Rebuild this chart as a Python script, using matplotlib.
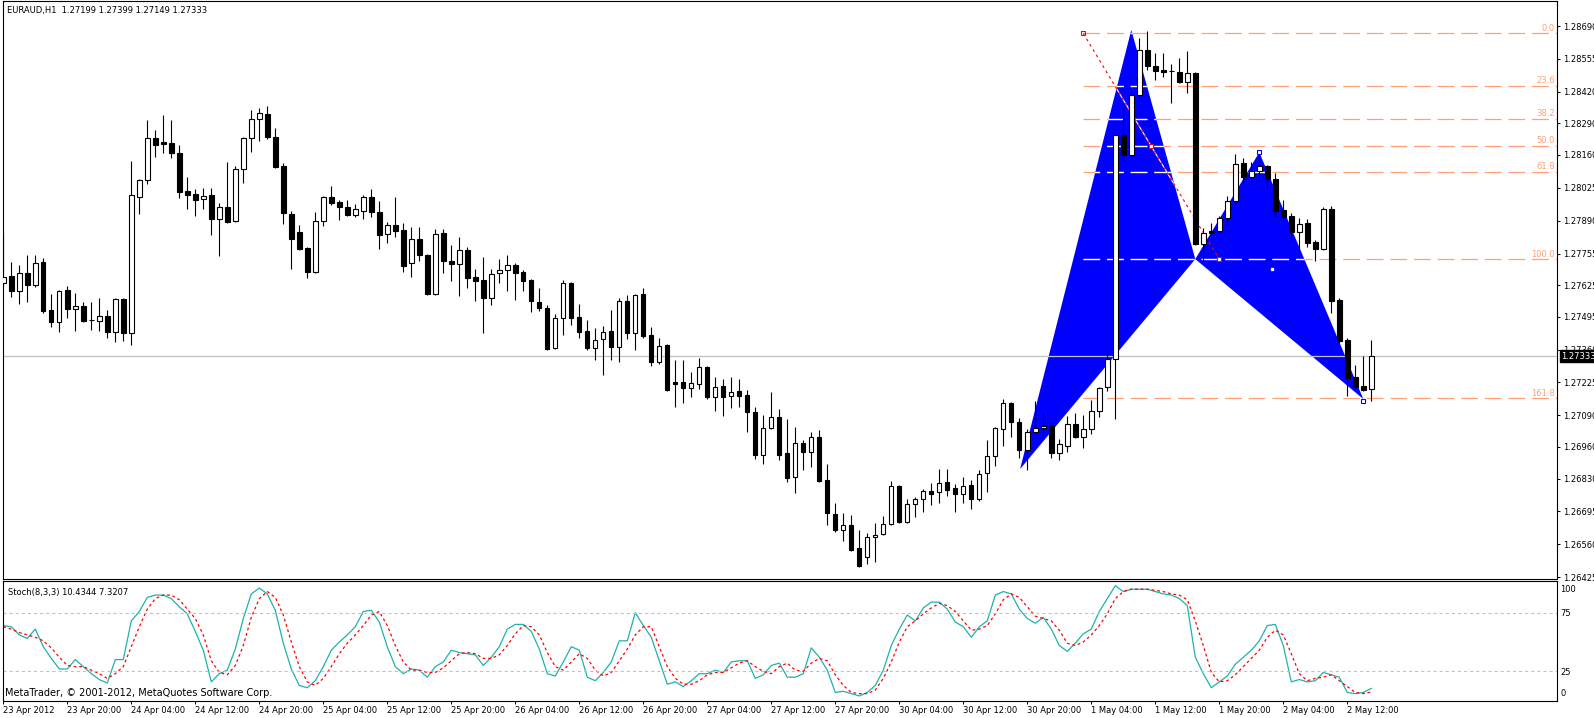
import matplotlib
matplotlib.use("Agg")
import matplotlib.pyplot as plt
import matplotlib.transforms as mtransforms
import numpy as np
from matplotlib.patches import Polygon

plt.rcParams['font.family'] = ['DejaVu Sans']
plt.rcParams['lines.scale_dashes'] = False

# EURAUD H1 bars, 23 Apr 2012 12:00 .. 2 May 2012 15:00
opens = [1.27634, 1.27662, 1.27601, 1.27675, 1.27625, 1.27720, 1.27523, 1.27474, 1.27605, 1.27527,
         1.27539, 1.27482, 1.27478, 1.27498, 1.27433, 1.27568, 1.27429, 1.27987, 1.28057, 1.28230,
         1.28214, 1.28210, 1.28169, 1.28012, 1.27999, 1.27979, 1.27995, 1.27897, 1.27946, 1.27889,
         1.28102, 1.28230, 1.28308, 1.28329, 1.28234, 1.28114, 1.27918, 1.27844, 1.27778, 1.27679,
         1.27889, 1.27987, 1.27967, 1.27946, 1.27913, 1.27930, 1.27987, 1.27926, 1.27836, 1.27872,
         1.27852, 1.27716, 1.27815, 1.27749, 1.27589, 1.27840, 1.27724, 1.27712, 1.27770, 1.27658,
         1.27646, 1.27572, 1.27675, 1.27687, 1.27707, 1.27679, 1.27646, 1.27556, 1.27531, 1.27367,
         1.27490, 1.27634, 1.27494, 1.27437, 1.27367, 1.27404, 1.27437, 1.27371, 1.27560, 1.27429,
         1.27589, 1.27420, 1.27309, 1.27379, 1.27227, 1.27227, 1.27202, 1.27219, 1.27288, 1.27165,
         1.27210, 1.27169, 1.27190, 1.27173, 1.27104, 1.26927, 1.27038, 1.27083, 1.26935, 1.26836,
         1.26977, 1.26940, 1.27001, 1.26824, 1.26685, 1.26619, 1.26640, 1.26545, 1.26508, 1.26590,
         1.26603, 1.26644, 1.26799, 1.26652, 1.26726, 1.26746, 1.26779, 1.26775, 1.26816, 1.26791,
         1.26767, 1.26803, 1.26746, 1.26853, 1.26923, 1.27034, 1.27141, 1.27063, 1.26948, 1.27022,
         1.27038, 1.27050, 1.26935, 1.26964, 1.27055, 1.27001, 1.27034, 1.27108, 1.27206, 1.27322,
         1.28243, 1.28160, 1.28407, 1.28592, 1.28526, 1.28509, 1.28505, 1.28501, 1.28460, 1.28497,
         1.27795, 1.27848, 1.27848, 1.27901, 1.27971, 1.28127, 1.28069, 1.28094, 1.28114, 1.28061,
         1.27934, 1.27909, 1.27844, 1.27881, 1.27803, 1.27774, 1.27938, 1.27564, 1.27400, 1.27247,
         1.27210, 1.27199]
highs = [1.27836, 1.27720, 1.27707, 1.27749, 1.27749, 1.27737, 1.27589, 1.27605, 1.27621, 1.27593,
         1.27556, 1.27556, 1.27572, 1.27523, 1.27572, 1.27572, 1.28135, 1.28061, 1.28304, 1.28263,
         1.28324, 1.28304, 1.28201, 1.28069, 1.28020, 1.28024, 1.28024, 1.27963, 1.28131, 1.28114,
         1.28234, 1.28345, 1.28353, 1.28361, 1.28271, 1.28127, 1.27930, 1.27872, 1.27782, 1.27926,
         1.27991, 1.28032, 1.27975, 1.27975, 1.27959, 1.27995, 1.28020, 1.27971, 1.27885, 1.27987,
         1.27881, 1.27864, 1.27864, 1.27753, 1.27856, 1.27856, 1.27790, 1.27823, 1.27782, 1.27691,
         1.27741, 1.27691, 1.27733, 1.27749, 1.27716, 1.27687, 1.27650, 1.27613, 1.27544, 1.27507,
         1.27646, 1.27638, 1.27548, 1.27482, 1.27449, 1.27457, 1.27523, 1.27572, 1.27584, 1.27589,
         1.27613, 1.27453, 1.27408, 1.27383, 1.27317, 1.27317, 1.27268, 1.27325, 1.27292, 1.27247,
         1.27239, 1.27247, 1.27239, 1.27194, 1.27124, 1.27092, 1.27186, 1.27116, 1.27075, 1.27042,
         1.26989, 1.27022, 1.27030, 1.26890, 1.26730, 1.26689, 1.26681, 1.26619, 1.26607, 1.26648,
         1.26676, 1.26820, 1.26803, 1.26746, 1.26754, 1.26787, 1.26812, 1.26869, 1.26869, 1.26808,
         1.26836, 1.26824, 1.26865, 1.26989, 1.27042, 1.27157, 1.27145, 1.27079, 1.27034, 1.27149,
         1.27100, 1.27063, 1.26993, 1.27087, 1.27100, 1.27092, 1.27153, 1.27206, 1.27350, 1.28247,
         1.28357, 1.28423, 1.28641, 1.28670, 1.28579, 1.28579, 1.28534, 1.28559, 1.28587, 1.28501,
         1.27860, 1.27881, 1.27909, 1.27991, 1.28164, 1.28148, 1.28131, 1.28168, 1.28119, 1.28086,
         1.27975, 1.27922, 1.27901, 1.27897, 1.27811, 1.27946, 1.27950, 1.27572, 1.27408, 1.27297,
         1.27334, 1.27399]
lows = [1.27617, 1.27576, 1.27548, 1.27556, 1.27617, 1.27511, 1.27453, 1.27433, 1.27490, 1.27437,
        1.27474, 1.27441, 1.27437, 1.27408, 1.27392, 1.27396, 1.27379, 1.27918, 1.28041, 1.28152,
        1.28169, 1.28148, 1.27983, 1.27938, 1.27909, 1.27938, 1.27831, 1.27745, 1.27881, 1.27885,
        1.28045, 1.28173, 1.28218, 1.28226, 1.28106, 1.27877, 1.27691, 1.27770, 1.27654, 1.27675,
        1.27868, 1.27954, 1.27893, 1.27909, 1.27905, 1.27897, 1.27905, 1.27774, 1.27799, 1.27823,
        1.27679, 1.27658, 1.27724, 1.27584, 1.27584, 1.27675, 1.27642, 1.27580, 1.27613, 1.27560,
        1.27429, 1.27544, 1.27634, 1.27601, 1.27564, 1.27601, 1.27515, 1.27519, 1.27359, 1.27363,
        1.27420, 1.27461, 1.27408, 1.27359, 1.27317, 1.27255, 1.27317, 1.27309, 1.27404, 1.27359,
        1.27408, 1.27292, 1.27301, 1.27190, 1.27124, 1.27141, 1.27165, 1.27198, 1.27157, 1.27108,
        1.27087, 1.27120, 1.27124, 1.27022, 1.26910, 1.26890, 1.27034, 1.26906, 1.26816, 1.26771,
        1.26865, 1.26877, 1.26816, 1.26640, 1.26611, 1.26574, 1.26533, 1.26467, 1.26479, 1.26487,
        1.26598, 1.26640, 1.26648, 1.26648, 1.26672, 1.26693, 1.26721, 1.26730, 1.26758, 1.26693,
        1.26730, 1.26705, 1.26738, 1.26775, 1.26881, 1.26964, 1.27001, 1.26915, 1.26865, 1.27018,
        1.27009, 1.26915, 1.26906, 1.26940, 1.26997, 1.26956, 1.27013, 1.27083, 1.27190, 1.27075,
        1.28135, 1.28156, 1.28378, 1.28509, 1.28468, 1.28481, 1.28374, 1.28456, 1.28415, 1.27790,
        1.27724, 1.27811, 1.27840, 1.27872, 1.27959, 1.28049, 1.28045, 1.28057, 1.28028, 1.27905,
        1.27889, 1.27807, 1.27766, 1.27782, 1.27724, 1.27770, 1.27511, 1.27387, 1.27169, 1.27198,
        1.27190, 1.27149]
closes = [1.27658, 1.27601, 1.27675, 1.27625, 1.27716, 1.27519, 1.27474, 1.27601, 1.27527, 1.27539,
          1.27478, 1.27482, 1.27498, 1.27433, 1.27568, 1.27429, 1.27995, 1.28057, 1.28230, 1.28201,
          1.28206, 1.28169, 1.28008, 1.27995, 1.27975, 1.27991, 1.27897, 1.27946, 1.27885, 1.28102,
          1.28230, 1.28308, 1.28333, 1.28234, 1.28110, 1.27922, 1.27815, 1.27774, 1.27679, 1.27889,
          1.27987, 1.27963, 1.27946, 1.27913, 1.27938, 1.27987, 1.27926, 1.27831, 1.27872, 1.27848,
          1.27703, 1.27815, 1.27749, 1.27589, 1.27836, 1.27724, 1.27712, 1.27770, 1.27654, 1.27642,
          1.27572, 1.27670, 1.27687, 1.27707, 1.27675, 1.27642, 1.27560, 1.27531, 1.27363, 1.27490,
          1.27634, 1.27490, 1.27433, 1.27367, 1.27400, 1.27433, 1.27371, 1.27560, 1.27429, 1.27584,
          1.27416, 1.27309, 1.27375, 1.27194, 1.27219, 1.27202, 1.27223, 1.27288, 1.27165, 1.27206,
          1.27165, 1.27186, 1.27169, 1.27104, 1.26927, 1.27038, 1.27083, 1.26927, 1.26832, 1.26977,
          1.26940, 1.27001, 1.26820, 1.26689, 1.26619, 1.26640, 1.26537, 1.26471, 1.26590, 1.26598,
          1.26644, 1.26799, 1.26652, 1.26726, 1.26746, 1.26779, 1.26767, 1.26812, 1.26783, 1.26767,
          1.26799, 1.26746, 1.26849, 1.26923, 1.27038, 1.27141, 1.27063, 1.26948, 1.27022, 1.27038,
          1.27046, 1.26935, 1.26972, 1.27055, 1.27001, 1.27034, 1.27108, 1.27202, 1.27321, 1.28243,
          1.28160, 1.28407, 1.28592, 1.28526, 1.28505, 1.28501, 1.28505, 1.28460, 1.28497, 1.27794,
          1.27840, 1.27840, 1.27901, 1.27971, 1.28123, 1.28069, 1.28094, 1.28114, 1.28061, 1.27930,
          1.27905, 1.27844, 1.27877, 1.27799, 1.27774, 1.27938, 1.27560, 1.27396, 1.27243, 1.27206,
          1.27194, 1.27333]

# Stoch(8,3,3) main (%K) and signal (%D)
stoch_k = [64, 63, 56, 53, 61, 46, 36, 27, 27, 35, 29, 23, 18, 15, 35, 35, 68, 76, 88, 90,
           90, 87, 80, 74, 59, 43, 16, 23, 26, 44, 70, 91, 96, 91, 77, 49, 27, 13, 11, 17,
           29, 43, 50, 56, 63, 76, 77, 67, 46, 29, 23, 27, 26, 20, 29, 33, 43, 41, 40, 39,
           30, 37, 46, 61, 65, 65, 59, 44, 23, 21, 33, 46, 43, 20, 17, 24, 33, 51, 51, 75,
           64, 54, 34, 14, 16, 12, 17, 23, 23, 26, 24, 33, 34, 34, 19, 22, 30, 32, 20, 20,
           23, 45, 37, 26, 7, 8, 6, 4, 7, 13, 26, 47, 61, 73, 68, 79, 84, 84, 78, 67,
           63, 54, 63, 68, 90, 93, 91, 78, 70, 66, 71, 61, 47, 42, 49, 57, 61, 76, 87, 98,
           93, 95, 95, 95, 93, 91, 90, 87, 81, 37, 23, 11, 16, 21, 31, 37, 43, 51, 64, 65,
           47, 16, 18, 16, 17, 24, 22, 20, 7, 6, 7, 10.4344]
stoch_d = [63, 61, 58, 56, 54, 51, 45, 37, 30, 29, 29, 26, 23, 19, 23, 29, 46, 63, 78, 87,
           90, 90, 86, 78, 70, 56, 34, 24, 22, 30, 47, 71, 87, 93, 88, 73, 50, 29, 16, 13,
           19, 29, 40, 49, 56, 64, 73, 76, 64, 47, 33, 26, 26, 24, 24, 28, 34, 40, 41, 40,
           36, 36, 39, 47, 57, 64, 63, 56, 41, 29, 26, 33, 40, 36, 26, 21, 24, 34, 44, 56,
           63, 63, 46, 29, 19, 14, 14, 17, 22, 24, 24, 28, 32, 34, 29, 25, 23, 29, 32, 26,
           25, 32, 36, 34, 22, 13, 7, 6, 6, 9, 19, 33, 50, 63, 68, 74, 79, 83, 81, 76,
           68, 60, 61, 64, 74, 86, 91, 88, 80, 72, 70, 68, 60, 49, 47, 50, 56, 64, 74, 87,
           93, 95, 95, 95, 94, 93, 91, 90, 86, 68, 47, 24, 16, 17, 22, 29, 36, 43, 54, 60,
           56, 40, 23, 17, 19, 20, 22, 17, 12, 7, 6, 7.3207]

time_labels = ["23 Apr 2012", "23 Apr 20:00", "24 Apr 04:00", "24 Apr 12:00", "24 Apr 20:00",
               "25 Apr 04:00", "25 Apr 12:00", "25 Apr 20:00", "26 Apr 04:00", "26 Apr 12:00",
               "26 Apr 20:00", "27 Apr 04:00", "27 Apr 12:00", "27 Apr 20:00", "30 Apr 04:00",
               "30 Apr 12:00", "30 Apr 20:00", "1 May 04:00", "1 May 12:00", "1 May 20:00",
               "2 May 04:00", "2 May 12:00"]
price_ticks = [1.28690, 1.28555, 1.28420, 1.28290, 1.28160, 1.28025, 1.27890, 1.27755, 1.27625,
               1.27495, 1.27360, 1.27225, 1.27090, 1.26960, 1.26830, 1.26695, 1.26560, 1.26425]
last_price = 1.27333

# Fibonacci retracement drawn on the chart
fib_names = ["0.0", "23.6", "38.2", "50.0", "61.8", "100.0", "161.8"]
fib_prices = [1.28660, 1.28444, 1.28308, 1.28197, 1.28090, 1.27731, 1.27160]
fib_start = 135
fib_trend_x = [135, 152]
fib_trend_y = [1.28660, 1.27731]

# XABCD pattern points (bar index, price)
pat_x = [127.1, 141, 149, 157, 170]
pat_y = [1.26869, 1.28674, 1.27732, 1.28171, 1.27157]

W, H = 1594, 718


def px_box(x0, y0, x1, y1):
    return [x0 / W, 1 - y1 / H, (x1 - x0) / W, (y1 - y0) / H]


fig = plt.figure(figsize=(W / 100, H / 100), dpi=100)
ax = fig.add_axes(px_box(2.7, 1, 1556.7, 579))
ax2 = fig.add_axes(px_box(2.7, 581, 1556.7, 701), sharex=ax)

o = np.array(opens)
h = np.array(highs)
l = np.array(lows)
c = np.array(closes)
idx = np.arange(len(o))
up = c >= o

# pattern
tri1 = Polygon(list(zip(pat_x[:3], pat_y[:3])), closed=True, facecolor='#0000FF', edgecolor='none', zorder=1)
tri2 = Polygon(list(zip(pat_x[2:], pat_y[2:])), closed=True, facecolor='#0000FF', edgecolor='none', zorder=1)
ax.add_patch(tri1)
ax.add_patch(tri2)

# fib levels
x_end = 194.2
for name, lev in zip(fib_names, fib_prices):
    ax.plot([fib_start, x_end], [lev, lev], color='#FFA07A', lw=0.9, ls=(0, (12, 5)), zorder=2)
    for tri in (tri1, tri2):
        wl, = ax.plot([fib_start, x_end], [lev, lev], color='white', lw=0.9, ls=(0, (12, 5)), zorder=2.1)
        wl.set_clip_path(tri)
    ax.text(x_end - 0.25, lev + 0.00003, name, color='#FFA07A', fontsize=6, ha='right', va='bottom', zorder=2)

wline, = ax.plot(fib_trend_x, fib_trend_y, color='white', lw=0.8, zorder=2.2)
wline.set_clip_path(tri1)
ax.plot(fib_trend_x, fib_trend_y, color='red', lw=0.8, ls=(0, (2, 2.5)), zorder=2.3)
ax.plot(fib_trend_x[0], fib_trend_y[0], marker='s', ms=3.2, mfc='none', mec='red', mew=0.8, zorder=2.3)
ax.plot([(fib_trend_x[0] + fib_trend_x[1]) / 2], [fib_prices[3]], marker='s', ms=3.2, mfc='white',
        mec='red', mew=0.8, zorder=2.3)
ax.plot(fib_trend_x[1], fib_trend_y[1], marker='s', ms=3.2, mfc='white', mec='red', mew=0.8, zorder=2.3)
ax.plot([pat_x[3], pat_x[4]], [pat_y[3], pat_y[4] - 0.00008], ls='none', marker='s', ms=3.4, mfc='white',
        mec='#0000FF', mew=0.8, zorder=5)
ax.plot([158.6], [1.27690], ls='none', marker='s', ms=2, mfc='white', mec='white', zorder=2.3)

# current price line
ax.axhline(last_price, color='#C0C0C0', lw=0.9, zorder=2)

# candles
ax.vlines(idx, l, h, color='black', lw=0.8, zorder=3)
ax.bar(idx, np.abs(c - o), bottom=np.minimum(o, c), width=0.55,
       color=np.where(up, 'white', 'black'), edgecolor='black', linewidth=0.8, zorder=4)

ax.set_xlim(-0.075, 194.175)
ax.set_ylim(1.26417, 1.28793)
ax.yaxis.tick_right()
ax.set_yticks(price_ticks)
ax.set_yticklabels(["%.5f" % p for p in price_ticks])
ax.tick_params(axis='y', length=2.2, width=0.7, pad=2.2, labelsize=6, direction='out')
ax.tick_params(axis='x', bottom=False, labelbottom=False)
for s in ax.spines.values():
    s.set_linewidth(0.8)

trans = mtransforms.blended_transform_factory(ax.transAxes, ax.transData)
ax.text(1.0 + 4.5 / 1554, last_price, "%.5f" % last_price, transform=trans, fontsize=6, color='white',
        ha='left', va='center', clip_on=False, zorder=10,
        bbox=dict(facecolor='black', edgecolor='black', pad=1.2))

# stochastic
ax2.plot(idx, stoch_k, color='#20B2AA', lw=0.9)
ax2.plot(idx, stoch_d, color='red', lw=0.9, ls=(0, (2, 2)))
for lev in (75, 25):
    ax2.axhline(lev, color='#C0C0C0', lw=0.8, ls=(0, (2.2, 2.2)))
ax2.set_ylim(-0.3, 102)
ax2.yaxis.tick_right()
ax2.set_yticks([75, 25])
ax2.set_yticklabels(["75", "25"])
ax2.tick_params(axis='y', length=0, pad=2.5, labelsize=6)
trans2 = mtransforms.blended_transform_factory(ax2.transAxes, ax2.transData)
ax2.text(1.0 + 3.5 / 1554, 95.1, "100", transform=trans2, fontsize=6, ha='left', va='center')
ax2.text(1.0 + 3.5 / 1554, 5.7, "0", transform=trans2, fontsize=6, ha='left', va='center')
for s in ax2.spines.values():
    s.set_linewidth(0.8)

ax2.set_xticks(np.arange(0, 8 * len(time_labels), 8))
ax2.set_xticklabels(time_labels)
for t in ax2.get_xticklabels():
    t.set_ha('left')
ax2.tick_params(axis='x', length=2.2, width=0.7, pad=1.5, labelsize=6, direction='out')

fig.text(7 / W, 1 - 11 / H, "EURAUD,H1  1.27199 1.27399 1.27149 1.27333", fontsize=6, va='center')
fig.text(7.6 / W, 1 - 592 / H, "Stoch(8,3,3) 10.4344 7.3207", fontsize=6, va='center')
fig.text(5 / W, 1 - 693 / H, "MetaTrader, \u00a9 2001-2012, MetaQuotes Software Corp.", fontsize=7, va='center')

fig.savefig("out.png", dpi=100)
